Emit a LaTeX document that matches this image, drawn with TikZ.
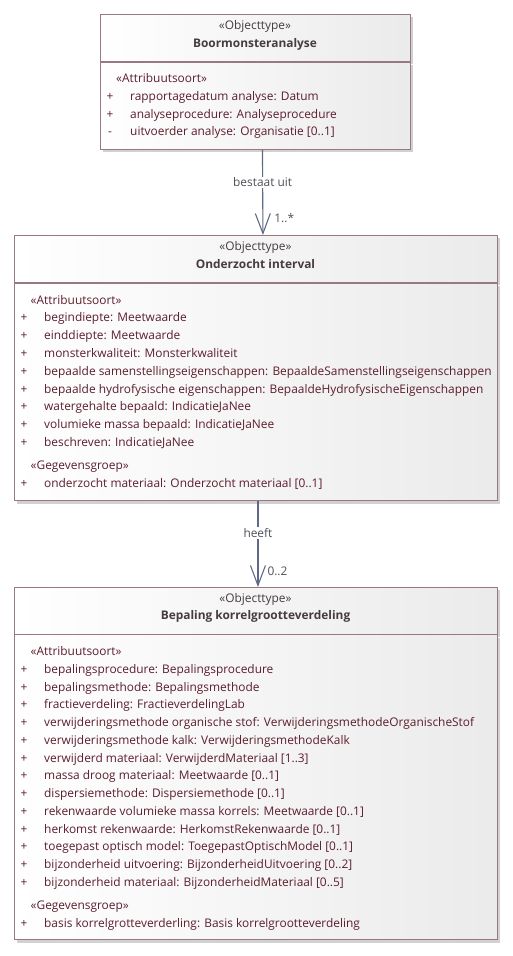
\documentclass[tikz,border=0pt]{standalone}
\usepackage{fontspec}
\setmainfont{Open Sans}
\usetikzlibrary{shadows,arrows.meta}

\definecolor{umlline}{RGB}{150,122,127}
\definecolor{umltext}{RGB}{92,30,45}
\definecolor{umlhead}{RGB}{70,60,62}
\definecolor{assocline}{RGB}{95,105,135}
\definecolor{assoctext}{RGB}{80,80,90}

\tikzset{
	classbox/.style={draw=umlline, line width=0.9pt, left color=white, right color=black!8,
		anchor=north west, inner sep=0pt,
		drop shadow={shadow xshift=3pt, shadow yshift=-3pt, fill=black!30, opacity=0.6}},
	stereo/.style={inner sep=0pt, text=umlhead, font=\fontsize{11.9}{14}\selectfont, text height=8.5pt, text depth=2.5pt},
	classname/.style={stereo, font=\fontsize{11.9}{14}\selectfont\bfseries},
	attr/.style={anchor=west, inner sep=0pt, text=umltext, font=\fontsize{11.9}{14}\selectfont, text height=8.5pt, text depth=2.5pt},
	vis/.style={attr, anchor=center},
	assoc/.style={draw=assocline, line width=1.1pt, -{Straight Barb[length=20pt,width=15pt]}},
	role/.style={inner sep=1pt, text=assoctext, font=\fontsize{11.9}{14}\selectfont, fill=white},
	mult/.style={inner sep=0pt, anchor=west, text=assoctext, font=\fontsize{11.9}{14}\selectfont}
}

\begin{document}
\begin{tikzpicture}[x=1pt,y=-1pt]
	\useasboundingbox (0,0) rectangle (513,956);

	% Boormonsteranalyse
	\node[classbox, minimum width=310pt, minimum height=47pt] (boorH) at (100,14) {};
	\node[classbox, minimum width=310pt, minimum height=87pt] (boorB) at (boorH.south west) {};
	\node[stereo] (boorS) at (255,26) {«Objecttype»};
	\node[classname] (boorN) at (255,44) {Boormonsteranalyse};
	\node[attr] (boorG1) at (116,79) {«Attribuutsoort»};
	\node[vis] (boorV1) at (110,97) {+};
	\node[attr] (boorA1) at (130,97) {rapportagedatum analyse: Datum};
	\node[vis] (boorV2) at (110,115) {+};
	\node[attr] (boorA2) at (130,115) {analyseprocedure: Analyseprocedure};
	\node[vis] (boorV3) at (110,132.5) {-};
	\node[attr] (boorA3) at (130,132.5) {uitvoerder analyse: Organisatie [0..1]};

	% Onderzocht interval
	\node[classbox, minimum width=483pt, minimum height=47pt] (intH) at (14,235) {};
	\node[classbox, minimum width=483pt, minimum height=217.5pt] (intB) at (intH.south west) {};
	\node[stereo] (intS) at (255.5,247) {«Objecttype»};
	\node[classname] (intN) at (255.5,265) {Onderzocht interval};
	\node[attr] (intG1) at (30.5,301) {«Attribuutsoort»};
	\node[vis] (intV1) at (24,318.7) {+};
	\node[attr] (intA1) at (44,318.7) {begindiepte: Meetwaarde};
	\node[vis] (intV2) at (24,336.5) {+};
	\node[attr] (intA2) at (44,336.5) {einddiepte: Meetwaarde};
	\node[vis] (intV3) at (24,354.3) {+};
	\node[attr] (intA3) at (44,354.3) {monsterkwaliteit: Monsterkwaliteit};
	\node[vis] (intV4) at (24,372.2) {+};
	\node[attr] (intA4) at (44,372.2) {bepaalde samenstellingseigenschappen: BepaaldeSamenstellingseigenschappen};
	\node[vis] (intV5) at (24,390) {+};
	\node[attr] (intA5) at (44,390) {bepaalde hydrofysische eigenschappen: BepaaldeHydrofysischeEigenschappen};
	\node[vis] (intV6) at (24,407.8) {+};
	\node[attr] (intA6) at (44,407.8) {watergehalte bepaald: IndicatieJaNee};
	\node[vis] (intV7) at (24,425.5) {+};
	\node[attr] (intA7) at (44,425.5) {volumieke massa bepaald: IndicatieJaNee};
	\node[vis] (intV8) at (24,443.3) {+};
	\node[attr] (intA8) at (44,443.3) {beschreven: IndicatieJaNee};
	\node[attr] (intG2) at (30.5,466.7) {«Gegevensgroep»};
	\node[vis] (intV9) at (24,484.3) {+};
	\node[attr] (intA9) at (44,484.3) {onderzocht materiaal: Onderzocht materiaal [0..1]};

	% Bepaling korrelgrootteverdeling
	\node[classbox, minimum width=483pt, minimum height=46.5pt] (korH) at (14,587) {};
	\node[classbox, minimum width=483pt, minimum height=305pt] (korB) at (korH.south west) {};
	\node[stereo] (korS) at (255.5,599) {«Objecttype»};
	\node[classname] (korN) at (255.5,616.7) {Bepaling korrelgrootteverdeling};
	\node[attr] (korG1) at (30.5,652.7) {«Attribuutsoort»};
	\node[vis] (korV1) at (24,670.5) {+};
	\node[attr] (korA1) at (44,670.5) {bepalingsprocedure: Bepalingsprocedure};
	\node[vis] (korV2) at (24,688.2) {+};
	\node[attr] (korA2) at (44,688.2) {bepalingsmethode: Bepalingsmethode};
	\node[vis] (korV3) at (24,705.9) {+};
	\node[attr] (korA3) at (44,705.9) {fractieverdeling: FractieverdelingLab};
	\node[vis] (korV4) at (24,723.6) {+};
	\node[attr] (korA4) at (44,723.6) {verwijderingsmethode organische stof: VerwijderingsmethodeOrganischeStof};
	\node[vis] (korV5) at (24,741.3) {+};
	\node[attr] (korA5) at (44,741.3) {verwijderingsmethode kalk: VerwijderingsmethodeKalk};
	\node[vis] (korV6) at (24,759) {+};
	\node[attr] (korA6) at (44,759) {verwijderd materiaal: VerwijderdMateriaal [1..3]};
	\node[vis] (korV7) at (24,776.7) {+};
	\node[attr] (korA7) at (44,776.7) {massa droog materiaal: Meetwaarde [0..1]};
	\node[vis] (korV8) at (24,794.5) {+};
	\node[attr] (korA8) at (44,794.5) {dispersiemethode: Dispersiemethode [0..1]};
	\node[vis] (korV9) at (24,812.3) {+};
	\node[attr] (korA9) at (44,812.3) {rekenwaarde volumieke massa korrels: Meetwaarde [0..1]};
	\node[vis] (korV10) at (24,830) {+};
	\node[attr] (korA10) at (44,830) {herkomst rekenwaarde: HerkomstRekenwaarde [0..1]};
	\node[vis] (korV11) at (24,847.8) {+};
	\node[attr] (korA11) at (44,847.8) {toegepast optisch model: ToegepastOptischModel [0..1]};
	\node[vis] (korV12) at (24,865.6) {+};
	\node[attr] (korA12) at (44,865.6) {bijzonderheid uitvoering: BijzonderheidUitvoering [0..2]};
	\node[vis] (korV13) at (24,883.4) {+};
	\node[attr] (korA13) at (44,883.4) {bijzonderheid materiaal: BijzonderheidMateriaal [0..5]};
	\node[attr] (korG2) at (30.5,906.7) {«Gegevensgroep»};
	\node[vis] (korV14) at (24,924.3) {+};
	\node[attr] (korA14) at (44,924.3) {basis korrelgrotteverderling: Basis korrelgrootteverdeling};

	% associaties
	\draw[assoc] ([xshift=7pt]boorB.south) -- node[role, pos=0.38] {bestaat uit}
		node[mult, pos=0.8, xshift=11pt] {1..*} ([xshift=7pt]intH.north);
	\draw[assoc] ([xshift=2pt]intB.south) -- node[role, pos=0.37] {heeft}
		node[mult, pos=0.82, xshift=9pt] {0..2} ([xshift=2pt]korH.north);
\end{tikzpicture}
\end{document}
